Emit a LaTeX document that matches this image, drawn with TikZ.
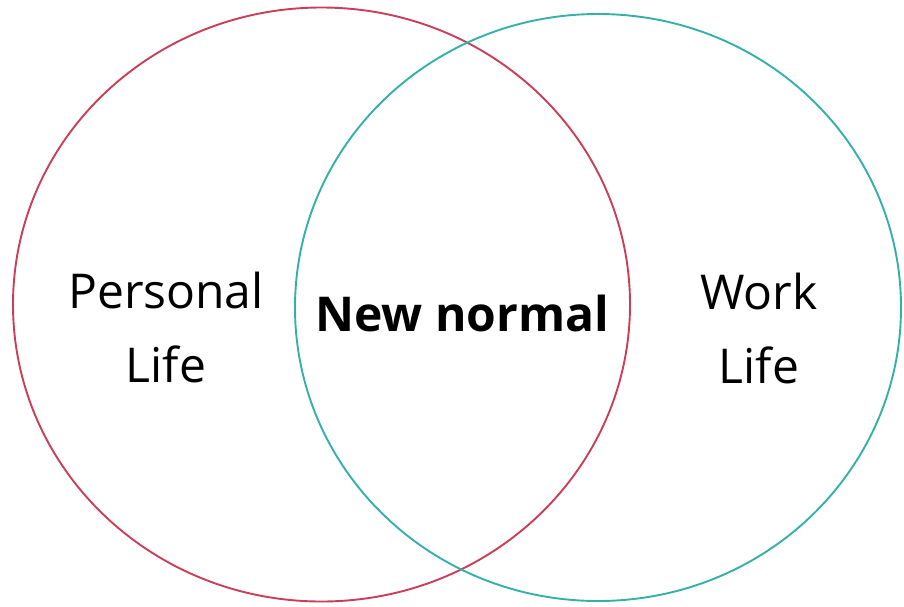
\documentclass[tikz,border=0pt]{standalone}
\usepackage{fontspec}
\setmainfont{Open Sans}
\definecolor{lifered}{RGB}{201,62,88}
\definecolor{workteal}{RGB}{52,176,170}
\tikzset{x=1pt, y=-1pt,
    set ring/.style={draw, line width=1.9pt},
    set label/.style={align=center, font=\fontsize{48}{74}\selectfont},
    }

\begin{document}
\begin{tikzpicture}
\useasboundingbox (0,0) rectangle (904,606);
\draw[set ring, lifered] (321.5,304.5) ellipse [x radius=308.5, y radius=297];
\draw[set ring, workteal] (598,307.5) ellipse [x radius=303, y radius=293.5];
\node[set label] (personal) at (166,327) {Personal\\Life};
\node[set label] (work) at (759,328) {Work\\Life};
\node[set label, font=\fontsize{48}{74}\selectfont\bfseries] (newnormal) at (462,313) {New normal};
\end{tikzpicture}
\end{document}
